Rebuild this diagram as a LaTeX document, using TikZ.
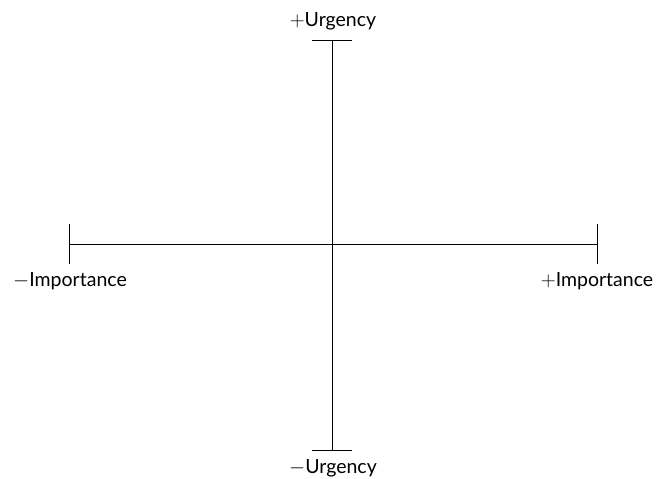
\documentclass[tikz,border=0pt]{standalone}
\usepackage{fontspec}
\setmainfont{Lato}
\begin{document}
\begin{tikzpicture}[x=1pt,y=-1pt,
  axis/.style={line width=0.8pt,black},
  lbl/.style={font=\fontsize{19.5}{22}\selectfont,inner sep=0pt}]
\useasboundingbox (0,0) rectangle (657,479);
\coordinate (T) at (332,40);
\coordinate (B) at (332,450);
\coordinate (L) at (69,244);
\coordinate (R) at (597,244);
\draw[axis] (T) -- (B);
\draw[axis] (L) -- (R);
\draw[axis] ([xshift=-20pt]T) -- ([xshift=20pt]T);
\draw[axis] ([xshift=-20pt]B) -- ([xshift=20pt]B);
\draw[axis] ([yshift=-20pt]L) -- ([yshift=20pt]L);
\draw[axis] ([yshift=-20pt]R) -- ([yshift=20pt]R);
\node[lbl] (tu) at (333,21) {$+$Urgency};
\node[lbl] (bu) at (333,468) {$-$Urgency};
\node[lbl] (li) at (70,281) {$-$Importance};
\node[lbl] (ri) at (597,281) {$+$Importance};
\end{tikzpicture}
\end{document}
